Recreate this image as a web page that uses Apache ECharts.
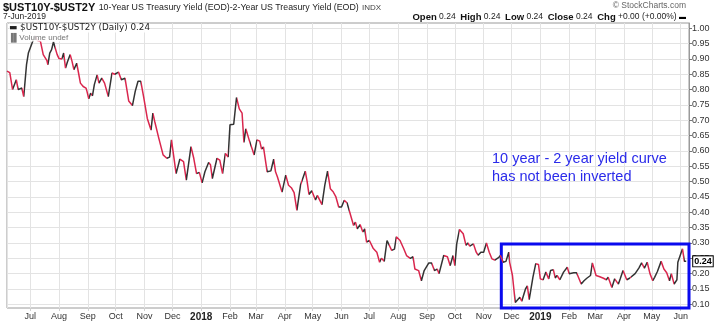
<!DOCTYPE html>
<html><head><meta charset="utf-8">
<script src="https://cdn.jsdelivr.net/npm/echarts@6.0.0/dist/echarts.min.js"></script>
<style>html,body{margin:0;padding:0;background:#fff}#c{width:720px;height:322px}</style>
</head><body><div id="c"></div>
<script>
// ---- data ----
const dates = [
'2017-06-06','2017-06-09','2017-06-12','2017-06-16','2017-06-18','2017-06-22','2017-06-24','2017-06-27','2017-06-29',
'2017-07-03','2017-07-06','2017-07-09','2017-07-12','2017-07-15','2017-07-19','2017-07-20','2017-07-22','2017-07-24','2017-07-26','2017-07-28','2017-07-30',
'2017-08-01','2017-08-04','2017-08-06','2017-08-08','2017-08-10','2017-08-13','2017-08-15','2017-08-17','2017-08-20','2017-08-22','2017-08-24','2017-08-27','2017-08-30','2017-08-31',
'2017-09-02','2017-09-04','2017-09-06','2017-09-08','2017-09-11','2017-09-13','2017-09-16','2017-09-19','2017-09-23','2017-09-27','2017-09-30',
'2017-10-04','2017-10-07','2017-10-11','2017-10-15','2017-10-19','2017-10-22','2017-10-25','2017-10-28','2017-10-31',
'2017-11-04','2017-11-08','2017-11-10','2017-11-12','2017-11-16','2017-11-21','2017-11-25','2017-11-28','2017-11-30',
'2017-12-05','2017-12-09','2017-12-13','2017-12-16','2017-12-21','2017-12-24','2017-12-27','2017-12-30',
'2018-01-02','2018-01-05','2018-01-09','2018-01-11','2018-01-13','2018-01-18','2018-01-21','2018-01-24','2018-01-27','2018-01-30',
'2018-02-01','2018-02-05','2018-02-08','2018-02-11','2018-02-14','2018-02-16','2018-02-18','2018-02-22','2018-02-24','2018-02-27',
'2018-03-02','2018-03-05','2018-03-07','2018-03-09','2018-03-13','2018-03-17','2018-03-20','2018-03-22','2018-03-24','2018-03-29',
'2018-04-02','2018-04-05','2018-04-08','2018-04-11','2018-04-14','2018-04-18','2018-04-20','2018-04-23','2018-04-25','2018-04-27','2018-04-30',
'2018-05-04','2018-05-06','2018-05-08','2018-05-11','2018-05-14','2018-05-17','2018-05-20','2018-05-23','2018-05-26','2018-05-29',
'2018-06-01','2018-06-04','2018-06-07','2018-06-09','2018-06-14','2018-06-16','2018-06-18','2018-06-21','2018-06-24','2018-06-26','2018-06-28',
'2018-07-01','2018-07-05','2018-07-09','2018-07-12','2018-07-14','2018-07-17','2018-07-20','2018-07-22','2018-07-25','2018-07-28','2018-07-30',
'2018-08-03','2018-08-07','2018-08-10','2018-08-14','2018-08-17','2018-08-19','2018-08-23','2018-08-26','2018-08-29',
'2018-09-03','2018-09-06','2018-09-09','2018-09-12','2018-09-14','2018-09-16','2018-09-19','2018-09-23','2018-09-26','2018-09-29',
'2018-10-01','2018-10-03','2018-10-06','2018-10-10','2018-10-13','2018-10-15','2018-10-17','2018-10-21','2018-10-24','2018-10-26','2018-10-29',
'2018-11-01','2018-11-04','2018-11-07','2018-11-10','2018-11-13','2018-11-17','2018-11-19','2018-11-22','2018-11-25','2018-11-28','2018-11-29',
'2018-12-02','2018-12-05','2018-12-07','2018-12-10','2018-12-12','2018-12-16','2018-12-18','2018-12-20','2018-12-24','2018-12-27','2018-12-30',
'2019-01-01','2019-01-04','2019-01-07','2019-01-10','2019-01-12','2019-01-15','2019-01-17','2019-01-19','2019-01-22','2019-01-26','2019-01-30',
'2019-02-01','2019-02-06','2019-02-09','2019-02-14','2019-02-17','2019-02-20','2019-02-24','2019-02-26',
'2019-03-02','2019-03-06','2019-03-10','2019-03-13','2019-03-15','2019-03-19','2019-03-22','2019-03-26','2019-03-28','2019-03-31',
'2019-04-04','2019-04-07','2019-04-09','2019-04-13','2019-04-17','2019-04-20','2019-04-23','2019-04-26','2019-04-29',
'2019-05-02','2019-05-04','2019-05-07','2019-05-11','2019-05-14','2019-05-17','2019-05-20','2019-05-22','2019-05-25','2019-05-28','2019-05-29','2019-05-31',
'2019-06-03','2019-06-05','2019-06-07'
];
const spread = [
0.86,0.855,0.80,0.832,0.80,0.805,0.777,0.881,0.919,
0.952,0.975,0.96,0.957,0.914,0.894,0.881,0.919,0.930,0.955,0.955,0.914,
0.901,0.90,0.919,0.870,0.89,0.914,0.892,0.865,0.886,0.854,0.821,0.81,0.805,0.795,
0.77,0.788,0.78,0.816,0.848,0.821,0.837,0.821,0.777,0.854,0.85,
0.857,0.832,0.837,0.763,0.748,0.794,0.827,0.827,0.777,
0.706,0.668,0.723,0.696,0.646,0.587,0.576,0.58,0.636,
0.526,0.573,0.565,0.505,0.614,0.576,0.526,0.53,
0.496,0.532,0.562,0.555,0.51,0.576,0.57,0.526,0.592,0.58,
0.685,0.687,0.774,0.737,0.723,0.628,0.672,0.632,0.632,0.587,
0.636,0.632,0.606,0.613,0.532,0.535,0.573,0.532,0.516,0.466,
0.521,0.488,0.48,0.464,0.406,0.49,0.488,0.534,0.501,0.458,0.47,
0.44,0.455,0.45,0.425,0.488,0.534,0.477,0.467,0.45,0.417,
0.417,0.439,0.43,0.432,0.357,0.368,0.346,0.36,0.336,0.346,0.303,
0.308,0.283,0.27,0.237,0.25,0.24,0.308,0.31,0.276,0.28,0.32,
0.308,0.281,0.259,0.25,0.255,0.215,0.21,0.177,0.21,
0.235,0.235,0.21,0.215,0.20,0.20,0.259,0.255,0.226,0.259,
0.226,0.297,0.344,0.33,0.292,0.30,0.29,0.297,0.27,0.26,0.27,
0.27,0.30,0.27,0.248,0.244,0.252,0.259,0.237,0.24,0.27,0.237,
0.194,0.106,0.11,0.123,0.11,0.15,0.16,0.115,0.188,0.232,0.23,
0.183,0.18,0.205,0.183,0.21,0.213,0.186,0.194,0.18,0.205,0.221,
0.20,0.203,0.203,0.166,0.177,0.185,0.194,0.235,
0.194,0.19,0.185,0.18,0.188,0.155,0.183,0.166,0.183,0.21,
0.18,0.185,0.18,0.20,0.218,0.235,0.218,0.237,0.20,
0.177,0.188,0.207,0.24,0.215,0.203,0.177,0.20,0.166,0.18,0.237,0.24,
0.281,0.24,0.24
];
const yTicks = [0.10,0.15,0.20,0.25,0.30,0.35,0.40,0.45,0.50,0.55,0.60,0.65,0.70,0.75,0.80,0.85,0.90,0.95,1.00];
const xStart = '2017-06-06', xEnd = '2019-06-10';
const boxStart = '2018-11-20', boxTop = 0.297, boxBottom = 0.087;
const lastValue = 0.24;

// ---- build ----
const UP = '#333333', DOWN = '#d9264d';
const t = s => { const [y,m,d] = s.split('-').map(Number); return new Date(y, m-1, d).getTime(); };
const seriesData = dates.map((d,i) => [t(d), spread[i]]);
const pieces = [];
for (let i = 0; i < dates.length - 1; i++) {
  const col = spread[i+1] >= spread[i] ? UP : DOWN;
  const last = pieces[pieces.length-1];
  if (last && last.color === col) { last.lt = t(dates[i+1]); }
  else pieces.push({gte: t(dates[i]), lt: t(dates[i+1]), color: col});
}
const lp = pieces[pieces.length-1]; lp.lte = lp.lt; delete lp.lt;

const FONT = 'Liberation Sans, Arial, sans-serif';
const chart = echarts.init(document.getElementById('c'), null, {renderer:'canvas'});
chart.setOption({
  animation: false,
  textStyle: {fontFamily: FONT},
  grid: {left: 7, right: 31, top: 23, bottom: 14, show: true, borderColor: '#9a9a9a', borderWidth: 1},
  xAxis: {
    type: 'time', min: t(xStart), max: t(xEnd), splitNumber: 24,
    axisLine: {show: false},
    axisTick: {show: true, length: 3, lineStyle: {color: '#cfcfcf'}},
    splitLine: {show: true, lineStyle: {color: '#e3e3e3', width: 1}},
    axisLabel: {
      fontSize: 9, color: '#333', margin: 4, fontFamily: FONT,
      showMinLabel: false, showMaxLabel: false,
      formatter: {year: '{y|{yyyy}}', month: '{MMM}', day: ''},
      rich: {y: {fontWeight: 'bold', fontSize: 10, color: '#222', fontFamily: FONT}}
    }
  },
  yAxis: {
    type: 'value', position: 'right', min: 0.088, max: 1.017, scale: true,
    axisLine: {show: true, lineStyle: {color: '#9a9a9a'}},
    axisTick: {show: true, length: 3, customValues: yTicks, lineStyle: {color: '#777'}},
    axisLabel: {customValues: yTicks, formatter: v => v.toFixed(2), fontSize: 9, color: '#333', margin: 3, fontFamily: FONT},
    splitLine: {show: true, lineStyle: {color: '#e3e3e3'}}
  },
  visualMap: {type: 'piecewise', show: false, dimension: 0, seriesIndex: 0, pieces: pieces, outOfRange: {color: UP}},
  series: [
    {
      type: 'line', data: seriesData, showSymbol: false, symbol: 'none', clip: false,
      lineStyle: {width: 1.5},
      endLabel: {
        show: true, formatter: () => lastValue.toFixed(2), distance: 7,
        color: '#000', fontWeight: 'bold', fontSize: 9, fontFamily: FONT,
        borderColor: '#000', borderWidth: 1, padding: [1, 1, 0, 1], backgroundColor: '#fff'
      },
      z: 3
    },
    {
      type: 'line', data: [], silent: true,
      markArea: {
        silent: true,
        itemStyle: {color: 'rgba(0,0,0,0)', borderColor: '#0a0aee', borderWidth: 3},
        data: [[{xAxis: t(boxStart), yAxis: boxTop}, {xAxis: t(xEnd), yAxis: boxBottom}]]
      },
      z: 4
    }
  ],
  graphic: [
    {type: 'text', x: 3, y: 8, style: {text: '{b|$UST10Y-$UST2Y} {n|10-Year US Treasury Yield (EOD)-2-Year US Treasury Yield (EOD)}', verticalAlign: 'middle',
      rich: {b: {fontSize: 11, fontWeight: 'bold', fill: '#111', fontFamily: FONT}, n: {fontSize: 8.8, fill: '#222', fontFamily: FONT}}}},
    {type: 'text', x: 362, y: 8, style: {text: 'INDX', fontSize: 8, fill: '#444', fontFamily: FONT, verticalAlign: 'middle'}},
    {type: 'text', x: 3, y: 17, style: {text: '7-Jun-2019', fontSize: 8.5, fill: '#222', fontFamily: FONT, verticalAlign: 'middle'}},
    {type: 'text', x: 686, y: 6, style: {text: '© StockCharts.com', fontSize: 8.5, fill: '#666', fontFamily: FONT, align: 'right', verticalAlign: 'middle'}},
    {type: 'text', x: 686, y: 17, style: {
      text: '{b|Open} 0.24  {b|High} 0.24  {b|Low} 0.24  {b|Close} 0.24  {b|Chg} +0.00 (+0.00%) {d|▬}',
      fontSize: 8.5, fill: '#222', fontFamily: FONT, align: 'right', verticalAlign: 'middle',
      rich: {b: {fontSize: 9.5, fontWeight: 'bold', fill: '#111', fontFamily: FONT}, d: {fontSize: 7, fill: '#000'}}}},
    {type: 'text', x: 9, y: 28, z: 10, style: {text: '▬ $UST10Y-$UST2Y (Daily) 0.24', fontSize: 8.8, fill: '#222', fontFamily: 'DejaVu Sans, sans-serif', verticalAlign: 'middle', backgroundColor: 'rgba(255,255,255,0.9)'}},
    {type: 'text', x: 8, y: 37.5, z: 10, style: {text: '▐▌Volume undef', fontSize: 8, fill: '#777', fontFamily: FONT, verticalAlign: 'middle', backgroundColor: 'rgba(255,255,255,0.9)'}},
    {type: 'text', x: 492, y: 159, z: 10, style: {text: '10 year - 2 year yield curve', fontSize: 14.5, fill: '#2b2bea', fontFamily: FONT, verticalAlign: 'middle'}},
    {type: 'text', x: 492, y: 177, z: 10, style: {text: 'has not been inverted', fontSize: 14.5, fill: '#2b2bea', fontFamily: FONT, verticalAlign: 'middle'}}
  ]
});
</script>
</body></html>
